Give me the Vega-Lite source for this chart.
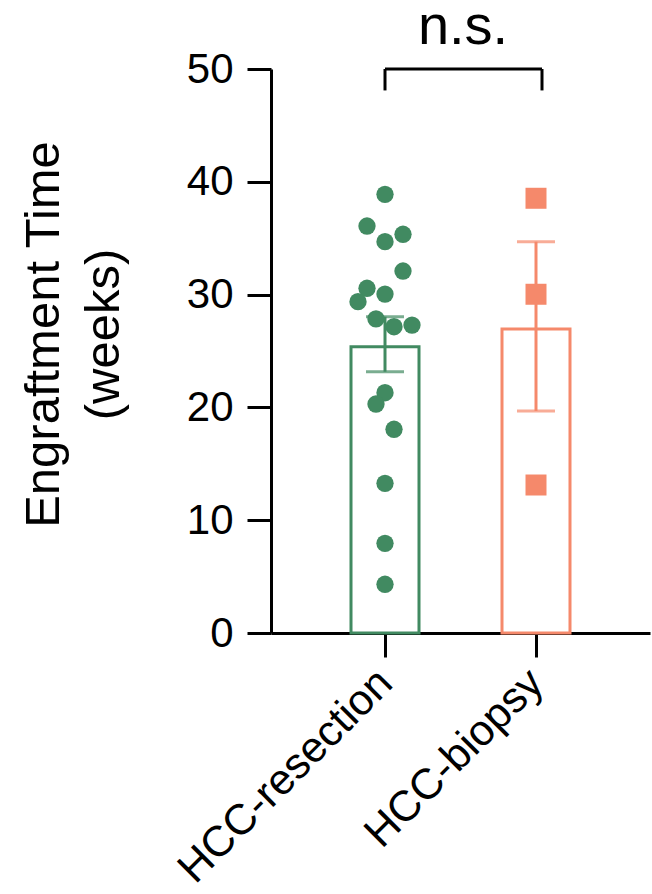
{
  "$schema": "https://vega.github.io/schema/vega-lite/v6.json",
  "width": 379,
  "height": 564,
  "autosize": {"type": "none"},
  "padding": {"left": 271, "top": 69, "right": 2, "bottom": 261},
  "background": "white",
  "config": {
    "view": {"stroke": null},
    "font": "Liberation Sans",
    "axis": {"grid": false, "domainColor": "black", "tickColor": "black", "labelColor": "black", "titleColor": "black", "domainWidth": 3, "tickWidth": 3, "tickSize": 24, "labelFont": "Liberation Sans", "titleFont": "Liberation Sans", "labelFontSize": 42, "labelLimit": 0}
  },
  "datasets": {
    "summary": [
      {"group": "HCC-resection", "mean": 25.38, "lo": 23.16, "hi": 28.04},
      {"group": "HCC-biopsy", "mean": 26.95, "lo": 19.68, "hi": 34.69}
    ],
    "points": [
      {"group": "HCC-resection", "weeks": 38.89, "jitter": 0},
      {"group": "HCC-resection", "weeks": 36.08, "jitter": -2},
      {"group": "HCC-resection", "weeks": 34.69, "jitter": 0},
      {"group": "HCC-resection", "weeks": 35.35, "jitter": 2},
      {"group": "HCC-resection", "weeks": 32.09, "jitter": 2},
      {"group": "HCC-resection", "weeks": 30.56, "jitter": -2},
      {"group": "HCC-resection", "weeks": 30.05, "jitter": 0},
      {"group": "HCC-resection", "weeks": 29.37, "jitter": -3},
      {"group": "HCC-resection", "weeks": 27.84, "jitter": -1},
      {"group": "HCC-resection", "weeks": 27.15, "jitter": 1},
      {"group": "HCC-resection", "weeks": 27.3, "jitter": 3},
      {"group": "HCC-resection", "weeks": 21.3, "jitter": 0},
      {"group": "HCC-resection", "weeks": 20.3, "jitter": -1},
      {"group": "HCC-resection", "weeks": 18.06, "jitter": 1},
      {"group": "HCC-resection", "weeks": 13.27, "jitter": 0},
      {"group": "HCC-resection", "weeks": 7.95, "jitter": 0},
      {"group": "HCC-resection", "weeks": 4.32, "jitter": 0},
      {"group": "HCC-biopsy", "weeks": 38.54, "jitter": 0},
      {"group": "HCC-biopsy", "weeks": 30.03, "jitter": 0},
      {"group": "HCC-biopsy", "weeks": 13.12, "jitter": 0}
    ],
    "bracket": [
      {"from": "HCC-resection", "to": "HCC-biopsy", "top": 50, "bottom": 48.1, "textY": 52.2, "label": "n.s."}
    ]
  },
  "encoding": {
    "x": {
      "field": "group",
      "type": "nominal",
      "sort": ["HCC-resection", "HCC-biopsy"],
      "scale": {"type": "point", "padding": 0.755, "domain": ["HCC-resection", "HCC-biopsy"]},
      "axis": {"title": null, "labelAngle": -45, "labelAlign": "right", "labelBaseline": "middle", "labelPadding": 19, "labelFontSize": 43}
    }
  },
  "layer": [
    {
      "data": {"name": "summary"},
      "mark": {"type": "bar", "fill": "white", "strokeWidth": 3, "width": 68},
      "encoding": {
        "y": {
          "field": "mean",
          "type": "quantitative",
          "scale": {"domain": [0, 50], "nice": false},
          "axis": {"values": [0, 10, 20, 30, 40, 50], "title": ["Engraftment Time", "(weeks)"], "titleFontSize": 49, "titleFontWeight": "normal", "titleLineHeight": 60, "titleX": -203, "titleY": 265, "labelPadding": 14}
        },
        "stroke": {"field": "group", "type": "nominal", "scale": {"domain": ["HCC-resection", "HCC-biopsy"], "range": ["#418A61", "#F5896B"]}, "legend": null}
      }
    },
    {
      "data": {"name": "summary"},
      "mark": {"type": "rule", "strokeWidth": 3},
      "encoding": {
        "y": {"field": "lo", "type": "quantitative"},
        "y2": {"field": "hi"},
        "color": {"field": "group", "type": "nominal", "scale": {"domain": ["HCC-resection", "HCC-biopsy"], "range": ["#418A61", "#F5896B"]}, "legend": null}
      }
    },
    {
      "data": {"name": "summary"},
      "mark": {"type": "tick", "thickness": 3, "size": 38},
      "encoding": {
        "y": {"field": "lo", "type": "quantitative"},
        "color": {"field": "group", "type": "nominal", "legend": null}
      }
    },
    {
      "data": {"name": "summary"},
      "mark": {"type": "tick", "thickness": 3, "size": 38},
      "encoding": {
        "y": {"field": "hi", "type": "quantitative"},
        "color": {"field": "group", "type": "nominal", "legend": null}
      }
    },
    {
      "data": {"name": "points"},
      "mark": {"type": "point", "filled": true, "opacity": 1},
      "encoding": {
        "y": {"field": "weeks", "type": "quantitative"},
        "xOffset": {"field": "jitter", "type": "quantitative", "scale": {"domain": [-3, 3], "range": [-27, 27]}},
        "color": {"field": "group", "type": "nominal", "legend": null},
        "shape": {"field": "group", "type": "nominal", "scale": {"domain": ["HCC-resection", "HCC-biopsy"], "range": ["circle", "square"]}, "legend": null},
        "size": {"field": "group", "type": "nominal", "scale": {"domain": ["HCC-resection", "HCC-biopsy"], "range": [300, 441]}, "legend": null}
      }
    },
    {
      "data": {"name": "bracket"},
      "mark": {"type": "rule", "strokeWidth": 3, "color": "black", "x2Offset": 6},
      "encoding": {
        "x": {"field": "from", "type": "nominal"},
        "x2": {"field": "to"},
        "y": {"field": "top", "type": "quantitative"}
      }
    },
    {
      "data": {"name": "bracket"},
      "mark": {"type": "rule", "strokeWidth": 3, "color": "black"},
      "encoding": {
        "x": {"field": "from", "type": "nominal"},
        "y": {"field": "top", "type": "quantitative"},
        "y2": {"field": "bottom"}
      }
    },
    {
      "data": {"name": "bracket"},
      "mark": {"type": "rule", "strokeWidth": 3, "color": "black", "xOffset": 6},
      "encoding": {
        "x": {"field": "to", "type": "nominal"},
        "y": {"field": "top", "type": "quantitative"},
        "y2": {"field": "bottom"}
      }
    },
    {
      "data": {"name": "bracket"},
      "mark": {"type": "text", "fontSize": 56, "color": "black", "dx": 78, "baseline": "alphabetic", "align": "center"},
      "encoding": {
        "x": {"field": "from", "type": "nominal"},
        "y": {"field": "textY", "type": "quantitative"},
        "text": {"field": "label"}
      }
    }
  ]
}
